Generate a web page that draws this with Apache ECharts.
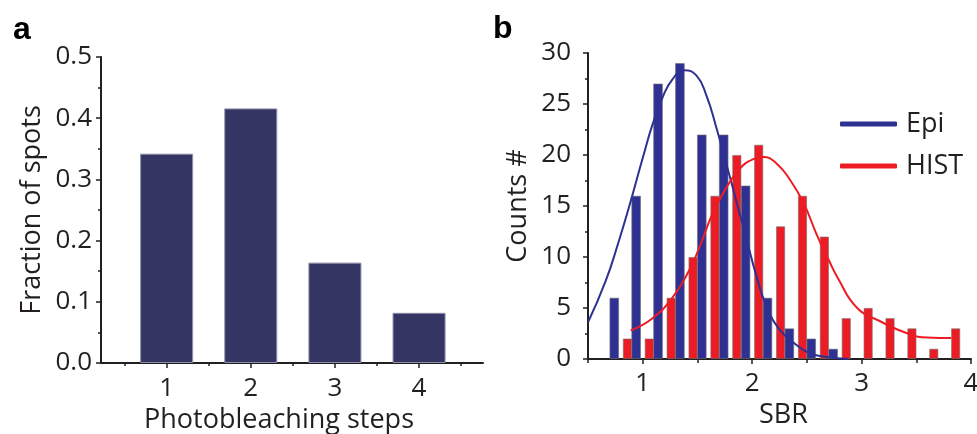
<!DOCTYPE html>
<html>
<head>
<meta charset="utf-8">
<script src="https://cdn.jsdelivr.net/npm/echarts@6/dist/echarts.min.js"></script>
<style>
  html, body { margin: 0; padding: 0; background: #fff; }
  #chart { width: 977px; height: 434px; }
</style>
</head>
<body>
<div id="chart"></div>
<script>
// panel a
var stepCats = [1, 2, 3, 4];
var stepFraction = [0.342, 0.416, 0.164, 0.082];

// panel b histograms (bin centres and counts)
var epiCenters = [0.74, 0.94, 1.14, 1.34, 1.54, 1.74, 1.94, 2.14, 2.34, 2.54, 2.74];
var epiCounts = [6, 16, 27, 29, 22, 22, 17, 6, 3, 2, 1];
var histCenters = [0.86, 1.06, 1.26, 1.46, 1.66, 1.86, 2.06, 2.26, 2.46, 2.66, 2.86, 3.06, 3.26, 3.46, 3.66, 3.86];
var histCounts = [2, 2, 6, 10, 16, 20, 21, 13, 16, 12, 4, 5, 4, 3, 1, 3];

// fitted curves
var epiFit = [[0.50, 3.6], [0.66, 7.6], [0.78, 11.5], [0.88, 15.1], [1.00, 19.7], [1.09, 23.0],
    [1.18, 25.6], [1.27, 27.4], [1.38, 28.3], [1.49, 27.8], [1.58, 25.9], [1.67, 22.8],
    [1.77, 18.9], [1.86, 15.3], [1.95, 11.7], [2.04, 8.1], [2.13, 5.2], [2.25, 2.9],
    [2.38, 1.6], [2.50, 0.7], [2.62, 0.3], [2.88, 0.0]];
var histFit = [[0.89, 2.8], [1.09, 4.0], [1.27, 6.0], [1.42, 8.6], [1.52, 11.0], [1.64, 14.3],
    [1.77, 16.9], [1.89, 18.7], [2.01, 19.6], [2.10, 19.8], [2.22, 19.2], [2.35, 17.5],
    [2.47, 15.3], [2.59, 12.2], [2.70, 9.7], [2.78, 8.0], [2.96, 5.0], [3.17, 3.7],
    [3.41, 2.55], [3.60, 2.1], [3.82, 2.05]];

var xLabelsB = [1, 2, 3, 4];
var xMinorB = [0.5, 1.5, 2.5, 3.5];
var xMinorA = [0.5, 1.5, 2.5, 3.5, 4.5];

var ink = '#231f20';
var font = '"Open Sans", "Noto Sans", sans-serif';

function pairs(xs, ys) {
    return xs.map(function (x, i) { return [x, ys[i]]; });
}

var chart = echarts.init(document.getElementById('chart'));

var axisLine = { show: true, lineStyle: { color: ink, width: 2 } };
var tickStyle = { color: ink, width: 1.5 };

var option = {
    animation: false,
    textStyle: { fontFamily: font, color: ink },
    title: [{
        text: 'a', left: 8, top: 9,
        textStyle: { fontFamily: '"Liberation Sans", Arial, sans-serif', fontWeight: 'bold', fontSize: 32, color: '#000' }
    }, {
        text: 'b', left: 488, top: 8,
        textStyle: { fontFamily: '"Liberation Sans", Arial, sans-serif', fontWeight: 'bold', fontSize: 32, color: '#000' }
    }],
    legend: {
        data: ['Epi', 'HIST'],
        orient: 'vertical',
        left: 835,
        top: 104,
        itemWidth: 57,
        itemHeight: 5,
        itemGap: 12,
        icon: 'roundRect',
        textStyle: { fontFamily: font, fontSize: 27, color: ink, lineHeight: 30, padding: [0, 0, 0, 4] }
    },
    grid: [
        { left: 101, top: 57, width: 382, height: 306, outerBoundsMode: 'none' },
        { left: 588, top: 53, width: 383, height: 306, outerBoundsMode: 'none' }
    ],
    xAxis: [{
        gridIndex: 0, type: 'value', min: 0.22, max: 4.76, position: 'bottom',
        name: 'Photobleaching steps', nameLocation: 'middle', nameGap: 32,
        nameTextStyle: { fontSize: 27, color: ink, padding: [0, 26, 0, 0] },
        axisLine: axisLine,
        axisTick: { show: true, length: 5, lineStyle: tickStyle, customValues: stepCats },
        axisLabel: { fontSize: 26, color: ink, margin: 13, customValues: stepCats },
        splitLine: { show: false }
    }, {
        gridIndex: 0, type: 'value', min: 0.22, max: 4.76, position: 'bottom',
        axisLine: { show: false },
        axisTick: { show: true, length: 3, lineStyle: tickStyle, customValues: xMinorA },
        axisLabel: { show: false },
        splitLine: { show: false }
    }, {
        gridIndex: 1, type: 'value', min: 0.5, max: 4, position: 'bottom',
        name: 'SBR', nameLocation: 'middle', nameGap: 33,
        nameTextStyle: { fontSize: 27, color: ink, padding: [0, 0, 0, 8] },
        axisLine: axisLine,
        axisTick: { show: true, length: 5, lineStyle: tickStyle, customValues: xLabelsB },
        axisLabel: { fontSize: 26, color: ink, margin: 12, customValues: xLabelsB },
        splitLine: { show: false }
    }, {
        gridIndex: 1, type: 'value', min: 0.5, max: 4, position: 'bottom',
        axisLine: { show: false },
        axisTick: { show: true, length: 4, lineStyle: tickStyle, customValues: xMinorB },
        axisLabel: { show: false },
        splitLine: { show: false }
    }],
    yAxis: [{
        gridIndex: 0, type: 'value', min: 0, max: 0.5, interval: 0.1,
        name: 'Fraction of spots', nameLocation: 'middle', nameGap: 55,
        nameTextStyle: { fontSize: 27, color: ink },
        axisLine: axisLine,
        axisTick: { show: true, length: 5, lineStyle: tickStyle },
        minorTick: { show: true, splitNumber: 2, length: 3, lineStyle: tickStyle },
        axisLabel: { fontSize: 26, color: ink, margin: 9, formatter: function (v) { return v.toFixed(1); } },
        splitLine: { show: false }
    }, {
        gridIndex: 1, type: 'value', min: 0, max: 30, interval: 5,
        name: 'Counts #', nameLocation: 'middle', nameGap: 56,
        nameTextStyle: { fontSize: 27, color: ink },
        axisLine: axisLine,
        axisTick: { show: true, length: 5, lineStyle: tickStyle },
        minorTick: { show: true, splitNumber: 2, length: 3, lineStyle: tickStyle },
        axisLabel: { fontSize: 26, color: ink, margin: 17 },
        splitLine: { show: false }
    }],
    series: [{
        name: 'steps',
        type: 'bar',
        xAxisIndex: 0, yAxisIndex: 0,
        barWidth: 53,
        itemStyle: { color: '#343562', borderColor: '#8d8eaa', borderWidth: 1 },
        data: pairs(stepCats, stepFraction)
    }, {
        name: 'EpiBars',
        type: 'bar',
        xAxisIndex: 2, yAxisIndex: 1,
        barWidth: 9.5,
        itemStyle: { color: '#2e3192', borderColor: 'rgba(110,110,120,0.8)', borderWidth: 0.8 },
        data: pairs(epiCenters, epiCounts)
    }, {
        name: 'HistBars',
        type: 'bar',
        xAxisIndex: 3, yAxisIndex: 1,
        barWidth: 9,
        itemStyle: { color: '#ed1c24', borderColor: 'rgba(120,110,110,0.8)', borderWidth: 0.8 },
        data: pairs(histCenters, histCounts)
    }, {
        name: 'Epi',
        type: 'line',
        xAxisIndex: 2, yAxisIndex: 1,
        smooth: 0.5,
        showSymbol: false,
        symbol: 'none',
        lineStyle: { color: '#2e3192', width: 2 },
        itemStyle: { color: '#2e3192' },
        data: epiFit
    }, {
        name: 'HIST',
        type: 'line',
        xAxisIndex: 2, yAxisIndex: 1,
        smooth: 0.5,
        showSymbol: false,
        symbol: 'none',
        lineStyle: { color: '#ed1c24', width: 2 },
        itemStyle: { color: '#ed1c24' },
        data: histFit
    }]
};

chart.setOption(option);
</script>
</body>
</html>
